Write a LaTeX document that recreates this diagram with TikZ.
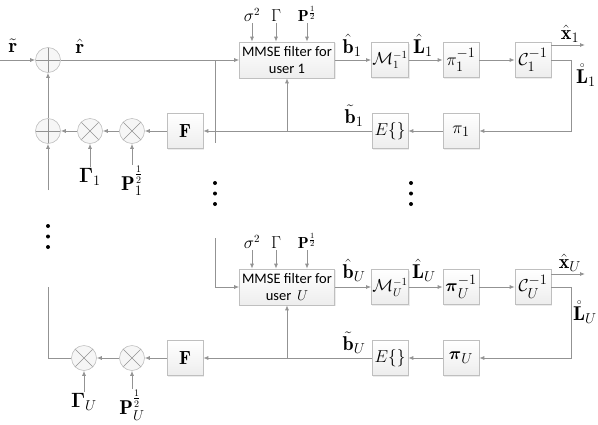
\documentclass[tikz,border=0pt]{standalone}
\usepackage{amsmath,amssymb}
\usepackage{fontspec}
\newfontfamily\boxfont{Carlito}
\usetikzlibrary{arrows.meta, positioning, shadows}

\begin{document}
\begin{tikzpicture}[
    x=1pt, y=-1pt,
    line/.style={draw=gray!85, line width=0.8pt},
    arrow/.style={line, -{Latex[length=5pt, width=4pt]}},
    blk/.style={rectangle, draw=gray!50, top color=white, bottom color=gray!14, line width=0.6pt, minimum width=36pt, minimum height=35pt, inner sep=1pt, font=\fontsize{19}{21}\selectfont, drop shadow={opacity=0.15, shadow xshift=1pt, shadow yshift=-1pt}},
    mmse/.style={blk, minimum width=95pt, minimum height=36pt, align=center, font=\boxfont\fontsize{14.5}{17}\selectfont},
    opcirc/.style={circle, draw=gray!50, fill=gray!7, minimum size=25pt, inner sep=0pt, line width=0.6pt},
    sumop/.style={opcirc, path picture={\draw[gray!85, line width=0.6pt] (path picture bounding box.north) -- (path picture bounding box.south) (path picture bounding box.west) -- (path picture bounding box.east);}},
    mulop/.style={opcirc, path picture={\draw[gray!85, line width=0.6pt] (path picture bounding box.north west) -- (path picture bounding box.south east) (path picture bounding box.south west) -- (path picture bounding box.north east);}},
    lbl/.style={inner sep=1pt, font=\fontsize{20}{22}\selectfont},
    inlbl/.style={inner sep=1pt, anchor=south, font=\fontsize{16}{18}\selectfont}
]
\useasboundingbox (0,0) rectangle (598,424);

% user 1: interference cancellation
\node[sumop] (sum1) at (48,60) {};
\node[sumop] (sum2) at (48,131) {};
\node[mulop] (mulg1) at (90,131) {};
\node[mulop] (mulp1) at (132,131) {};
\node[blk] (F1) at (185,131) {$\mathbf{F}$};

% user 1: detection chain
\node[mmse] (mmse1) at (287,60) {MMSE filter for\\user 1};
\node[blk, font=\fontsize{16}{18}\selectfont] (demap1) at (390,60) {$\mathcal{M}_1^{-1}$};
\node[blk] (deint1) at (461,60) {$\pi_1^{-1}$};
\node[blk] (dec1) at (533,60) {$\mathcal{C}_1^{-1}$};
\node[blk] (int1) at (461,131) {$\pi_1$};
\node[blk] (exp1) at (390,131) {$E\{\}$};

% user U
\node[mulop] (mulgU) at (84,358) {};
\node[mulop] (mulpU) at (132,358) {};
\node[blk] (FU) at (185,358) {$\mathbf{F}$};
\node[mmse] (mmseU) at (287,287) {MMSE filter for\\user \,$U$};
\node[blk, font=\fontsize{16}{18}\selectfont] (demapU) at (390,287) {$\mathcal{M}_U^{-1}$};
\node[blk] (deintU) at (461,287) {$\boldsymbol{\pi}_U^{-1}$};
\node[blk] (decU) at (533,287) {$\mathcal{C}_U^{-1}$};
\node[blk] (intU) at (461,358) {$\boldsymbol{\pi}_U$};
\node[blk] (expU) at (390,358) {$E\{\}$};

% filter inputs
\node[inlbl] (sig1) at (252,23) {$\sigma^2$};
\node[inlbl] (gam1) at (276,23) {$\Gamma$};
\node[inlbl] (pow1) at (307,23) {$\mathbf{P}^{\frac{1}{2}}$};
\node[inlbl] (sigU) at (252,250) {$\sigma^2$};
\node[inlbl] (gamU) at (276,250) {$\Gamma$};
\node[inlbl] (powU) at (307,250) {$\mathbf{P}^{\frac{1}{2}}$};
\foreach \n in {sig1,gam1,pow1} \draw[arrow] (\n.south) -- (\n.south |- mmse1.north);
\foreach \n in {sigU,gamU,powU} \draw[arrow] (\n.south) -- (\n.south |- mmseU.north);

% weights
\node[lbl, anchor=north] (g1) at (90,167) {$\boldsymbol{\Gamma}_1$};
\node[lbl, anchor=north] (p1) at (132,165) {$\mathbf{P}_1^{\frac{1}{2}}$};
\node[lbl, anchor=north] (gU) at (84,392) {$\boldsymbol{\Gamma}_U$};
\node[lbl, anchor=north] (pU) at (132,389) {$\mathbf{P}_U^{\frac{1}{2}}$};
\draw[arrow] (g1) -- (mulg1);
\draw[arrow] (p1) -- (mulp1);
\draw[arrow] (gU) -- (mulgU);
\draw[arrow] (pU) -- (mulpU);

% signal labels
\node[lbl] (rin) at (13,46) {$\tilde{\mathbf{r}}$};
\node[lbl] (rhat) at (80,46) {$\hat{\mathbf{r}}$};
\node[lbl, anchor=south] (bh1) at (352,58) {$\hat{\mathbf{b}}_1$};
\node[lbl, anchor=south] (lh1) at (423,58) {$\hat{\mathbf{L}}_1$};
\node[lbl, anchor=south] (xh1) at (570,44) {$\hat{\mathbf{x}}_1$};
\node[lbl] (lr1) at (586,75) {$\mathring{\mathbf{L}}_1$};
\node[lbl, anchor=south] (bt1) at (354,128) {$\tilde{\mathbf{b}}_1$};
\node[lbl, anchor=south] (bhU) at (354,283) {$\hat{\mathbf{b}}_U$};
\node[lbl, anchor=south] (lhU) at (424,283) {$\hat{\mathbf{L}}_U$};
\node[lbl, anchor=south] (xhU) at (570,273) {$\hat{\mathbf{x}}_U$};
\node[lbl] (lrU) at (585,312) {$\mathring{\mathbf{L}}_U$};
\node[lbl, anchor=south] (btU) at (354,355) {$\tilde{\mathbf{b}}_U$};

% helper points
\coordinate (start1) at (0,60);
\coordinate (tap1) at (215,60);
\coordinate (tapend1) at (215,143);
\coordinate (tapU) at (215,238);
\coordinate (sumin) at (48,190);
\coordinate (lret) at (48,287);
\coordinate (fb1) at (287,131);
\coordinate (fbU) at (287,358);
\coordinate (turn1) at (571,60);
\coordinate (turnU) at (571,287);
\coordinate (xo1) at (585,45);
\coordinate (xoU) at (585,274);

% user 1 connections
\draw[arrow] (start1) -- (sum1);
\draw[arrow] (sum1) -- (mmse1);
\draw[line] (tap1) -- (tapend1);
\draw[arrow] (mmse1) -- (demap1);
\draw[arrow] (demap1) -- (deint1);
\draw[arrow] (deint1) -- (dec1);
\draw[arrow] (dec1.east |- xo1) -- (xo1);
\draw[arrow] (dec1.east) -- (turn1) |- (int1.east);
\draw[arrow] (int1) -- (exp1);
\draw[arrow] (exp1) -- (F1);
\draw[arrow] (fb1) -- (mmse1.south);
\draw[arrow] (F1) -- (mulp1);
\draw[arrow] (mulp1) -- (mulg1);
\draw[arrow] (mulg1) -- (sum2);
\draw[arrow] (sum2) -- (sum1);
\draw[arrow] (sumin) -- (sum2);

% user U connections
\draw[arrow] (tapU) |- (mmseU.west);
\draw[arrow] (mmseU) -- (demapU);
\draw[arrow] (demapU) -- (deintU);
\draw[arrow] (deintU) -- (decU);
\draw[arrow] (decU.east |- xoU) -- (xoU);
\draw[arrow] (decU.east) -- (turnU) |- (intU.east);
\draw[arrow] (intU) -- (expU);
\draw[arrow] (expU) -- (FU);
\draw[arrow] (fbU) -- (mmseU.south);
\draw[arrow] (FU) -- (mulpU);
\draw[arrow] (mulpU) -- (mulgU);
\draw[line] (mulgU) -| (lret);

% vertical dots
\foreach \x/\y in {215/183, 411/183, 48/226}
  \foreach \d in {0,10.5,21}
    \fill (\x,\y+\d) circle (2pt);

\end{tikzpicture}
\end{document}
